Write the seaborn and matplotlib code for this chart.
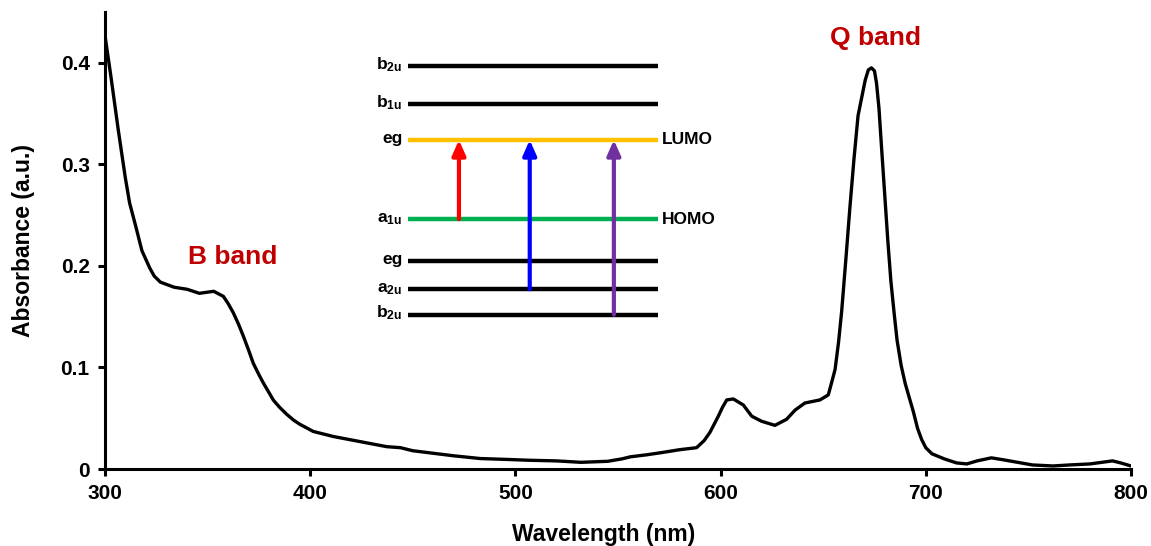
import matplotlib
matplotlib.use('Agg')
import matplotlib.pyplot as plt
import pandas as pd
import seaborn as sns

# absorption spectrum
wavelength = [300, 303, 306.4, 309.9, 312, 315, 318, 321.8, 324, 327, 333.7, 340, 346, 353,
              357.7, 360, 362.5, 365, 367.4, 370, 372.3, 375, 377.1, 380, 382, 385, 388.5, 392,
              395, 401.5, 411.3, 424.3, 437.3, 444, 450, 458, 470, 483, 495, 507, 520, 532,
              545, 552, 556, 564, 572, 580, 588.3, 592, 594.8, 598.9, 601, 603, 606.2, 611.1,
              615.2, 620, 626.5, 632.2, 636.3, 641.1, 648.4, 652.5, 654.1, 655.8, 657.5, 659,
              661, 663, 665, 667, 669, 670.5, 672, 673.5, 675, 676, 677.2, 678.5, 680, 681.5,
              683, 684.5, 686, 688, 690, 692, 694, 696, 698, 700, 703, 709, 715, 720, 725, 732,
              738, 745, 752, 762, 770, 780, 791, 795, 800]
absorbance = [0.427, 0.385, 0.335, 0.287, 0.262, 0.239, 0.215, 0.198, 0.190, 0.184, 0.179, 0.177,
              0.173, 0.175, 0.170, 0.163, 0.154, 0.143, 0.131, 0.117, 0.104, 0.093, 0.085, 0.075,
              0.068, 0.061, 0.054, 0.048, 0.044, 0.037, 0.032, 0.027, 0.022, 0.021, 0.018, 0.016,
              0.013, 0.0103, 0.0095, 0.0086, 0.008, 0.0066, 0.0076, 0.010, 0.012, 0.014, 0.0164,
              0.019, 0.021, 0.028, 0.036, 0.052, 0.061, 0.068, 0.069, 0.063, 0.052, 0.047, 0.043,
              0.049, 0.058, 0.065, 0.068, 0.073, 0.085, 0.098, 0.125, 0.155, 0.205, 0.257, 0.305,
              0.348, 0.368, 0.383, 0.393, 0.395, 0.392, 0.380, 0.355, 0.315, 0.270, 0.225, 0.185,
              0.155, 0.127, 0.102, 0.084, 0.070, 0.056, 0.040, 0.029, 0.021, 0.015, 0.010, 0.006,
              0.005, 0.008, 0.011, 0.009, 0.0065, 0.004, 0.003, 0.004, 0.005, 0.008, 0.006, 0.003]

# orbital energy diagram (inset), placed in data units
level_names = [r'b$_{2u}$', r'b$_{1u}$', 'eg', r'a$_{1u}$', 'eg', r'a$_{2u}$', r'b$_{2u}$']
level_y = [0.397, 0.359, 0.324, 0.246, 0.205, 0.177, 0.152]
level_tags = ['', '', 'LUMO', 'HOMO', '', '', '']
level_colors = ['black', 'black', '#FFC000', '#00B050', 'black', 'black', 'black']
level_x = (447.5, 569.5)

arrow_x = [472.5, 507, 548]
arrow_from = [0.246, 0.177, 0.152]
arrow_colors = ['#FF0000', '#0000FF', '#7030A0']

xticks = [300, 400, 500, 600, 700, 800]
yticks = [0, 0.1, 0.2, 0.3, 0.4]
ytick_labels = ['0', '0.1', '0.2', '0.3', '0.4']

sns.set_style('ticks')
plt.rcParams['font.family'] = ['Liberation Sans', 'DejaVu Sans']
plt.rcParams['mathtext.fontset'] = 'custom'
plt.rcParams['mathtext.rm'] = 'Liberation Sans:bold'
plt.rcParams['mathtext.it'] = 'Liberation Sans:bold'
plt.rcParams['mathtext.bf'] = 'Liberation Sans:bold'
for k in ['text.color', 'axes.labelcolor', 'xtick.color', 'ytick.color', 'axes.edgecolor']:
    plt.rcParams[k] = 'black'

fig = plt.figure(figsize=(11.51, 5.46), dpi=100)
ax = fig.add_axes([0.0912, 0.141, 0.8914, 0.837])

df = pd.DataFrame({'wl': wavelength, 'abs': absorbance})
sns.lineplot(data=df, x='wl', y='abs', color='black', lw=2.4, ax=ax)

# energy levels
for y, c in zip(level_y, level_colors):
    ax.hlines(y, *level_x, color=c, lw=3.2, zorder=3)
for name, y in zip(level_names, level_y):
    ax.text(level_x[0] - 2.5, y - 0.003, name, ha='right', va='baseline',
            fontsize=12.5, fontweight='bold')
for tag, y in zip(level_tags, level_y):
    if tag:
        ax.text(level_x[1] + 2, y, tag, ha='left', va='center',
                fontsize=12.5, fontweight='bold')

# transitions
lumo = level_y[2]
for x, y0, c in zip(arrow_x, arrow_from, arrow_colors):
    ax.annotate('', xy=(x, lumo), xytext=(x, y0),
                arrowprops=dict(arrowstyle='-|>,head_length=0.9,head_width=0.4',
                                color=c, lw=3, shrinkA=0, shrinkB=0), zorder=4)

ax.text(362, 0.209, 'B band', color='#C00000', fontsize=19, fontweight='bold',
        ha='center', va='center')
ax.text(675.7, 0.424, 'Q band', color='#C00000', fontsize=19, fontweight='bold',
        ha='center', va='center')

ax.set_xlim(300, 800)
ax.set_ylim(0, 0.45)
ax.set_xticks(xticks, [str(t) for t in xticks])
ax.set_yticks(yticks, ytick_labels)
for lab in ax.get_xticklabels() + ax.get_yticklabels():
    lab.set_fontweight('bold')
    lab.set_fontsize(15)
ax.set_xlabel('Wavelength (nm)', fontsize=16.5, fontweight='bold')
ax.set_ylabel('Absorbance (a.u.)', fontsize=16.5, fontweight='bold')
ax.xaxis.set_label_coords(0.486, -0.118)
ax.yaxis.set_label_coords(-0.068, 0.5)

sns.despine(ax=ax)
for s in ['left', 'bottom']:
    ax.spines[s].set_linewidth(2.2)
ax.tick_params(width=2.2, length=5, direction='out', pad=6)

fig.savefig('out.png', dpi=100)
